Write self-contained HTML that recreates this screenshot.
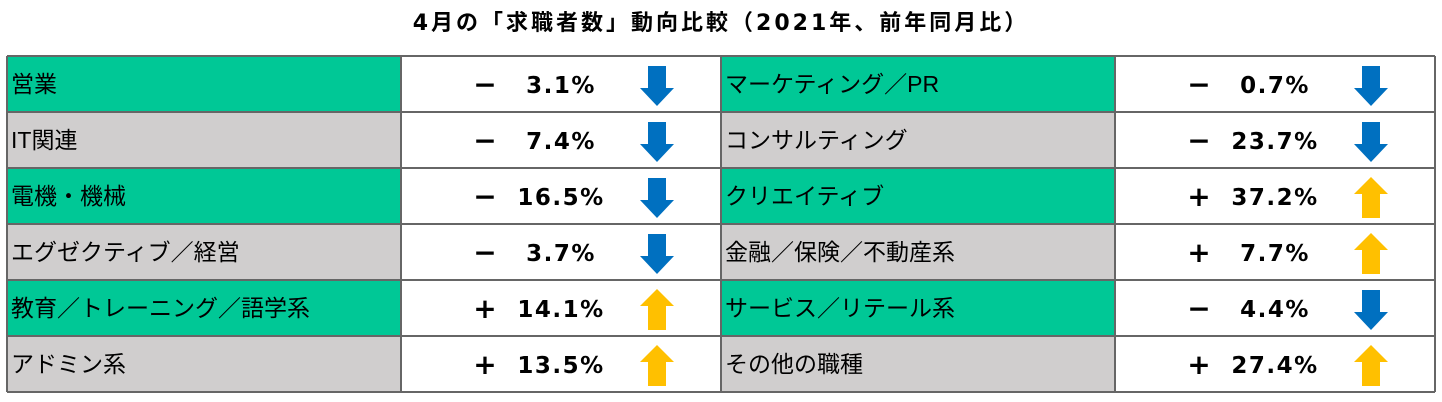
<!DOCTYPE html>
<html><head><meta charset="utf-8">
<style>
body{margin:0;width:1442px;height:402px;background:#fff;overflow:hidden;font-family:"Liberation Sans","Noto Sans CJK JP",sans-serif;}
#title{position:absolute;left:0;top:5px;width:1442px;text-align:center;font-weight:bold;font-size:22px;letter-spacing:3px;color:#000;font-family:"DejaVu Sans","Noto Sans CJK JP",sans-serif;}
svg{position:absolute;left:0;top:0;}
</style></head><body>
<div id="title">4月の「求職者数」動向比較（2021年、前年同月比）</div>
<svg id="s" width="1442" height="402"></svg>
<script>
const labels=["営業","IT関連","電機・機械","エグゼクティブ／経営","教育／トレーニング／語学系","アドミン系","マーケティング／PR","コンサルティング","クリエイティブ","金融／保険／不動産系","サービス／リテール系","その他の職種"];
const values=[-3.1,-7.4,-16.5,-3.7,14.1,13.5,-0.7,-23.7,37.2,7.7,-4.4,27.4];
const NS="http://www.w3.org/2000/svg";
const s=document.getElementById('s');
function el(t,a){const e=document.createElementNS(NS,t);for(const k in a)e.setAttribute(k,a[k]);s.appendChild(e);return e;}
const top0=56,rh=56,cols=[[7,401,721],[721,1115,1435]];
const rows=6;
for(let i=0;i<labels.length;i++){
  const c=Math.floor(i/rows),r=i%rows;
  const [x0,x1,x2]=cols[c];const y=top0+r*rh;
  const cell=el('rect',{x:x0,y:y,width:x1-x0,height:rh,fill:r%2==0?'#00C896':'#D0CECE'});
  
  
  const t=el('text',{x:x0+4,y:y+36,'font-size':23,fill:'#000'});t.textContent=labels[i];
  
  
  const v=values[i];
  const sg=el('text',{x:x1+84,y:y+38,'font-size':28,'font-weight':'bold','text-anchor':'middle',fill:'#000','font-family':'DejaVu Sans, sans-serif'});sg.textContent=v<0?'−':'+';
  
  
  const n=el('text',{x:x1+160,y:y+37,'font-size':23,'font-weight':'bold','text-anchor':'middle','letter-spacing':1.5,fill:'#000','font-family':'DejaVu Sans, sans-serif'});n.textContent=Math.abs(v).toFixed(1)+'%';
  
  
  const ax=x1+256;let p;
  if(v<0){p=`${ax-9},${y+10} ${ax+9},${y+10} ${ax+9},${y+32} ${ax+17},${y+32} ${ax},${y+50} ${ax-17},${y+32} ${ax-9},${y+32}`;}
  else{p=`${ax},${y+9} ${ax+17},${y+26} ${ax+9},${y+26} ${ax+9},${y+50} ${ax-9},${y+50} ${ax-9},${y+26} ${ax-17},${y+26}`;}
  const a=el('polygon',{points:p,fill:v<0?'#0070C0':'#FFC000'});
  
  
}
for(let r=0;r<=rows;r++){el('line',{x1:7,x2:1435,y1:top0+r*rh,y2:top0+r*rh,stroke:'#666','stroke-width':2});}
[7,401,721,1115,1435].forEach(x=>el('line',{x1:x,x2:x,y1:top0,y2:top0+rows*rh,stroke:'#666','stroke-width':2}));
</script>
</body></html>
